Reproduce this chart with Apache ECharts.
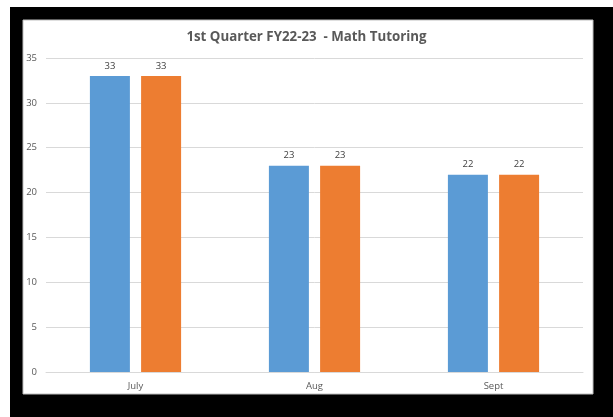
<!DOCTYPE html>
<html><head><meta charset="utf-8">
<script src="https://cdn.jsdelivr.net/npm/echarts@6/dist/echarts.min.js"></script>
<style>html,body{margin:0;padding:0;background:#fff}#c{width:613px;height:417px}</style>
</head><body><div id="c"></div>
<script>
const categories = ['July', 'Aug', 'Sept'];
const seriesA = [33, 23, 22];
const seriesB = [33, 23, 22];
const yTicks = [0, 5, 10, 15, 20, 25, 30, 35];
const titleText = '1st Quarter FY22-23  - Math Tutoring';

const chart = echarts.init(document.getElementById('c'), null, {renderer: 'canvas'});
const font = '"Open Sans", "Liberation Sans", sans-serif';
chart.setOption({
  backgroundColor: '#fff',
  animation: false,
  graphic: [
    {type: 'rect', z: -10, shape: {x: 10, y: 7, width: 603, height: 410}, style: {fill: '#000'}},
    {type: 'rect', z: -9, shape: {x: 23, y: 20, width: 570, height: 374}, style: {fill: '#fff', stroke: '#bfbfbf', lineWidth: 1}}
  ],
  title: {
    text: titleText, left: 'center', top: 26,
    textStyle: {fontFamily: font, fontSize: 13.3, fontWeight: 'bold', color: '#595959'}
  },
  grid: {left: 46, right: 30, top: 58, bottom: 45, containLabel: false},
  xAxis: {
    type: 'category', data: categories,
    axisLine: {show: true, lineStyle: {color: '#d9d9d9'}},
    axisTick: {show: false},
    axisLabel: {color: '#595959', fontFamily: font, fontSize: 9.5, margin: 9}
  },
  yAxis: {
    type: 'value', min: yTicks[0], max: yTicks[yTicks.length - 1], interval: 5,
    axisLine: {show: false}, axisTick: {show: false},
    splitLine: {lineStyle: {color: '#d9d9d9'}},
    axisLabel: {color: '#595959', fontFamily: font, fontSize: 9.5, margin: 9}
  },
  series: [
    {type: 'bar', data: seriesA, barWidth: 40, barGap: '28%',
     itemStyle: {color: '#5B9BD5'},
     label: {show: true, position: 'top', distance: 5, color: '#404040', fontFamily: font, fontSize: 9.5}},
    {type: 'bar', data: seriesB, barWidth: 40, barGap: '28%',
     itemStyle: {color: '#ED7D31'},
     label: {show: true, position: 'top', distance: 5, color: '#404040', fontFamily: font, fontSize: 9.5}}
  ]
});
</script></body></html>
